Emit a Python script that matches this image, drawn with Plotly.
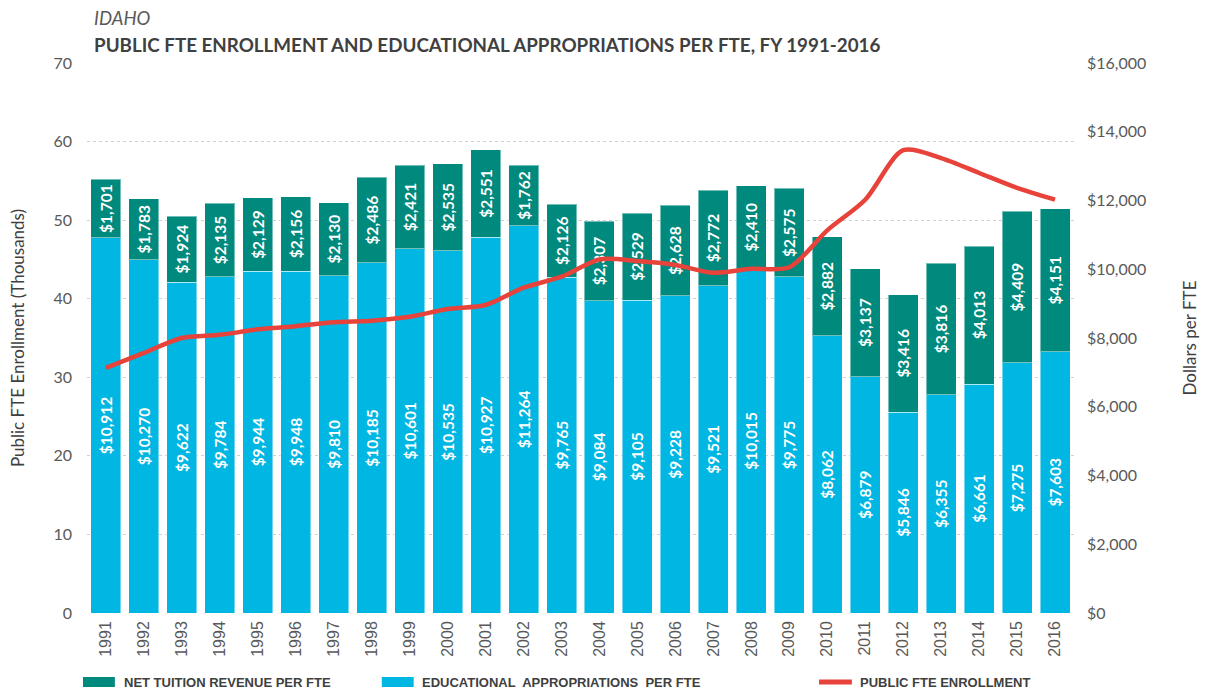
import plotly.graph_objects as go

years = [str(y) for y in range(1991, 2017)]
approp = [10912, 10270, 9622, 9784, 9944, 9948, 9810, 10185, 10601, 10535, 10927, 11264, 9765,
          9084, 9105, 9228, 9521, 10015, 9775, 8062, 6879, 5846, 6355, 6661, 7275, 7603]
tuition = [1701, 1783, 1924, 2135, 2129, 2156, 2130, 2486, 2421, 2535, 2551, 1762, 2126,
           2307, 2529, 2628, 2772, 2410, 2575, 2882, 3137, 3416, 3816, 4013, 4409, 4151]
enrollment = [31.2, 33.1, 35.0, 35.4, 36.1, 36.5, 37.0, 37.2, 37.7, 38.7, 39.2, 41.4, 42.8,
              45.0, 44.8, 44.3, 43.3, 43.8, 44.0, 48.7, 52.6, 58.9, 57.9, 56.0, 54.1, 52.6]

TEAL = "#00897D"
BLUE = "#00B6E2"
RED = "#E8433A"
FONT = "Lato"
W, H = 1208, 691
L, R, T, B = 87, 1078, 63, 613


def px(x):
    return (x - L) / (R - L)


def py(y):
    return (B - y) / (B - T)


fig = go.Figure()
fig.add_trace(go.Bar(
    x=years, y=approp, name="EDUCATIONAL APPROPRIATIONS PER FTE",
    marker=dict(color=BLUE, line=dict(color="rgba(255,255,255,0.45)", width=1)),
    text=[f"${v:,}" for v in approp], textposition="inside", insidetextanchor="middle",
    textangle=-90, textfont=dict(family=FONT, size=15.5, color="white", weight="bold"),
    yaxis="y", showlegend=False,
))
fig.add_trace(go.Bar(
    x=years, y=tuition, name="NET TUITION REVENUE PER FTE",
    marker=dict(color=TEAL, line=dict(color="rgba(255,255,255,0.45)", width=1)),
    text=[f"${v:,}" for v in tuition], textposition="inside", insidetextanchor="middle",
    textangle=-90, textfont=dict(family=FONT, size=15.5, color="white", weight="bold"),
    yaxis="y", showlegend=False,
))
fig.add_trace(go.Scatter(
    x=years, y=enrollment, name="PUBLIC FTE ENROLLMENT", mode="lines",
    line=dict(color=RED, width=4.5, shape="spline", smoothing=0.8),
    yaxis="y2", showlegend=False,
))

fig.update_layout(
    width=W, height=H,
    margin=dict(l=L, r=W - R, t=T, b=H - B),
    paper_bgcolor="white", plot_bgcolor="white",
    barmode="stack", bargap=0.21,
    uniformtext=dict(minsize=8, mode="show"),
    font=dict(family=FONT, color="#595959"),
    xaxis=dict(
        type="category", tickangle=-90, showgrid=False, showline=False, ticks="",
        tickfont=dict(family="Liberation Sans", size=16, color="#595959"),
        ticklabelstandoff=4,
    ),
    yaxis=dict(
        side="right", range=[0, 16000], dtick=2000, tickprefix="$", tickformat=",",
        showgrid=False, zeroline=False, ticks="",
        tickfont=dict(family=FONT, size=16, color="#595959"),
        ticklabelstandoff=12,
        title=dict(text="Dollars per FTE", font=dict(family=FONT, size=17, color="#404040"), standoff=38),
    ),
    yaxis2=dict(
        overlaying="y", side="left", range=[0, 70], dtick=10,
        showgrid=True, gridcolor="#D0D0D0", griddash="3px,3px", gridwidth=1,
        zeroline=False, ticks="",
        tickfont=dict(family=FONT, size=16, color="#595959"),
        ticklabelstandoff=14,
        title=dict(text="Public FTE Enrollment (Thousands)", font=dict(family=FONT, size=17, color="#404040"), standoff=24),
    ),
)

annotations = [
    dict(text="<i>IDAHO</i>", x=px(92), y=py(18), xref="paper", yref="paper",
         xanchor="left", yanchor="middle", showarrow=False,
         font=dict(family=FONT, size=18.5, color="#595959")),
    dict(text="<b>PUBLIC FTE ENROLLMENT AND EDUCATIONAL APPROPRIATIONS PER FTE, FY 1991-2016</b>",
         x=px(92), y=py(44), xref="paper", yref="paper",
         xanchor="left", yanchor="middle", showarrow=False,
         font=dict(family=FONT, size=18.8, color="#404040")),
]
legend_items = [
    ("NET TUITION REVENUE PER FTE", 83, 115, 122, TEAL, "rect"),
    ("EDUCATIONAL  APPROPRIATIONS  PER FTE", 383, 415, 421, BLUE, "rect"),
    ("PUBLIC FTE ENROLLMENT", 822, 855, 861, RED, "line"),
]
shapes = []
for label, x0, x1, xt, col, kind in legend_items:
    if kind == "rect":
        shapes.append(dict(type="rect", xref="paper", yref="paper", x0=px(x0), x1=px(x1),
                           y0=py(687), y1=py(677), fillcolor=col, line=dict(width=0)))
    else:
        shapes.append(dict(type="line", xref="paper", yref="paper", x0=px(x0), x1=px(x1),
                           y0=py(682), y1=py(682), line=dict(color=col, width=5)))
    annotations.append(dict(text=f"<b>{label}</b>", x=px(xt), y=py(682), xref="paper", yref="paper",
                            xanchor="left", yanchor="middle", showarrow=False,
                            font=dict(family="Liberation Sans", size=13, color="#404040")))

fig.update_layout(annotations=annotations, shapes=shapes)
fig.write_html("out.html", config={"displayModeBar": False},
               post_script="document.body.style.margin='0px';document.body.style.overflow='hidden';")
